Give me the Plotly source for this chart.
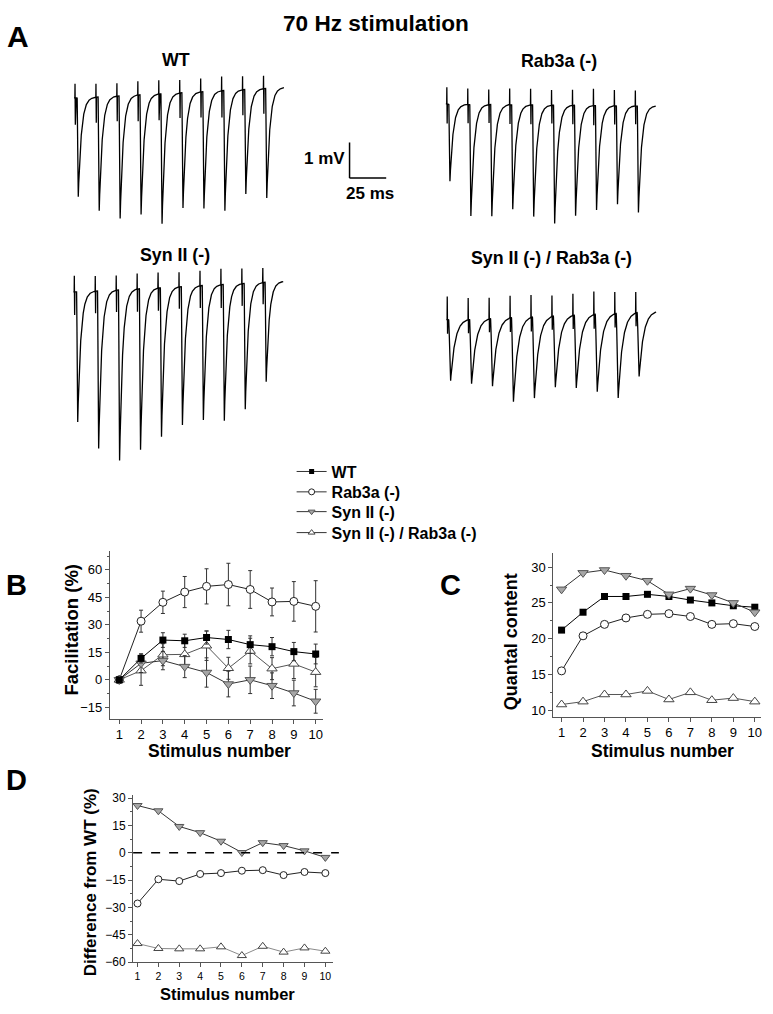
import numpy as np
import plotly.graph_objects as go

W, H = 773, 1014

# ---------------- data ----------------
stim = list(range(1, 11))

# Panel A: EPP amplitudes (mV) of each response in the 70 Hz train
epp_wt = [2.78, 3.20, 3.45, 3.37, 3.65, 3.24, 3.29, 3.38, 2.94, 3.08]
epp_rab = [2.17, 3.14, 3.14, 2.94, 3.14, 3.33, 3.11, 2.94, 2.77, 3.00]
epp_syn = [3.66, 4.43, 4.80, 4.53, 4.19, 3.89, 3.78, 3.83, 3.54, 2.80]
epp_dko = [1.72, 1.82, 1.91, 2.37, 2.29, 2.01, 2.06, 2.19, 2.39, 1.81]

# Panel B: facilitation (%)
fac_wt = [0, 11.7, 21.7, 21.3, 23.1, 22.0, 19.2, 18.1, 15.4, 14.1]
fac_wt_err = [1.0, 2.5, 4.0, 3.6, 3.6, 5.0, 4.8, 5.0, 5.0, 5.4]
fac_rab = [0, 32.0, 42.3, 47.9, 51.0, 52.0, 49.3, 42.5, 42.8, 40.1]
fac_rab_err = [1.0, 6.0, 6.1, 8.5, 9.6, 11.6, 10.3, 7.6, 10.8, 14.0]
fac_syn = [0, 9.0, 10.5, 7.2, 4.0, -2.3, 0.0, -3.2, -7.2, -11.7]
fac_syn_err = [1.0, 5.0, 5.0, 6.0, 8.0, 7.0, 7.5, 7.0, 7.0, 6.5]
fac_dko = [0, 5.0, 13.7, 13.9, 18.6, 6.3, 15.7, 6.1, 8.7, 4.2]
fac_dko_err = [1.0, 8.0, 6.0, 6.0, 8.0, 6.0, 7.0, 6.0, 8.0, 8.0]

# Panel C: quantal content
qc_wt = [21.2, 23.7, 25.9, 25.9, 26.2, 25.9, 25.4, 25.0, 24.6, 24.4]
qc_rab = [15.5, 20.4, 22.0, 22.9, 23.4, 23.5, 23.1, 22.0, 22.1, 21.7]
qc_syn = [26.9, 29.2, 29.6, 28.8, 28.1, 26.2, 27.0, 26.1, 25.0, 23.7]
qc_dko = [10.8, 11.2, 12.2, 12.2, 12.7, 11.5, 12.5, 11.4, 11.7, 11.2]

# Panel D: difference from WT (%)
diff_rab = [-27.8, -14.5, -15.5, -11.6, -11.1, -9.8, -9.5, -12.2, -10.5, -11.1]
diff_syn = [26.0, 23.1, 14.5, 11.1, 6.4, 0.2, 5.6, 4.0, 1.1, -2.5]
diff_dko = [-49.8, -52.5, -52.7, -52.7, -51.6, -56.4, -51.3, -54.5, -52.2, -54.0]

names = ["WT", "Rab3a (-)", "Syn II (-)", "Syn II (-) / Rab3a (-)"]

# ---------------- styling ----------------
FONT = "Liberation Sans, Arial, sans-serif"
AX = "#555555"

PX_PER_MS = 36.7 / 25.0
PX_PER_MV = 36.0
PERIOD = 1000.0 / 70.0


def px(x, y):
    return x / W, 1 - y / H


def sweep(amps, tau, rise, lat, art_up, art_dn, drift, tail=14.0, dt=0.02):
    n = len(amps)
    T = (n - 1) * PERIOD + tail
    t = np.arange(-0.6, T, dt)
    v = drift * np.clip(t, 0, None) / T
    for k, a in enumerate(amps):
        s = t - k * PERIOD
        v = v + art_up * np.clip(1 - np.abs(s - 0.08) / 0.1, 0, None)
        v = v - art_dn * np.clip(1 - np.abs(s - 0.3) / 0.14, 0, None)
        s2 = s - lat
        e = np.zeros_like(t)
        r = (s2 >= 0) & (s2 < rise)
        d = s2 >= rise
        e[r] = 0.5 * (1 - np.cos(np.pi * s2[r] / rise))
        e[d] = np.exp(-(s2[d] - rise) / tau)
        v = v - a * e
    return t, v


fig = go.Figure()

# ---- panel A traces (axis x/y: ms / mV, whole-page canvas) ----
trace_specs = [
    # amps, start px x, baseline px y, tau, rise, lat, up, dn, drift
    (epp_wt, 75.0, 95.0, 2.1, 0.8, 1.5, 0.40, 0.75, 0.30),
    (epp_rab, 447.3, 101.0, 2.2, 0.8, 1.4, 0.47, 0.55, -0.05),
    (epp_syn, 74.3, 291.0, 2.1, 0.8, 1.6, 0.45, 0.65, 0.30),
    (epp_dko, 447.7, 319.0, 3.0, 1.4, 1.0, 0.65, 0.40, 0.25),
]
for amps, x0, y0, tau, rise, lat, up, dn, drift in trace_specs:
    t, v = sweep(amps, tau, rise, lat, up, dn, drift)
    fig.add_trace(go.Scatter(
        x=x0 / PX_PER_MS + t, y=-y0 / PX_PER_MV + v, mode="lines",
        line=dict(color="black", width=1.3), xaxis="x", yaxis="y",
        showlegend=False, hoverinfo="skip"))

# scale bar (25 ms, 1 mV) in the same units as the traces
sb_x = 350.0 / PX_PER_MS
sb_y = -176.0 / PX_PER_MV
fig.add_shape(type="line", xref="x", yref="y", x0=sb_x, x1=sb_x, y0=sb_y, y1=sb_y + 1.0,
              line=dict(color="black", width=1.5))
fig.add_shape(type="line", xref="x", yref="y", x0=sb_x, x1=sb_x + 25.0, y0=sb_y, y1=sb_y,
              line=dict(color="black", width=1.5))

# ---- series styles ----
mk = {
    "wt": dict(symbol="square", size=7, color="black", line=dict(color="black", width=0)),
    "rab": dict(symbol="circle", size=8, color="white", line=dict(color="#222", width=1)),
    "syn": dict(symbol="triangle-down", size=9, color="#a6a6a6", line=dict(color="#555", width=1)),
    "dko": dict(symbol="triangle-up", size=9, color="white", line=dict(color="#444", width=1)),
}
lc = {"wt": "black", "rab": "#222", "syn": "#333", "dko": "#555"}

# ---- panel B ----
for key, ys, err in [("rab", fac_rab, fac_rab_err), ("dko", fac_dko, fac_dko_err),
                     ("syn", fac_syn, fac_syn_err), ("wt", fac_wt, fac_wt_err)]:
    fig.add_trace(go.Scatter(
        x=stim, y=ys, mode="lines+markers", xaxis="x2", yaxis="y2",
        line=dict(color=lc[key], width=1), marker=mk[key], cliponaxis=False,
        error_y=dict(type="data", array=err, color="#333", thickness=1, width=2),
        showlegend=False, hoverinfo="skip"))

# ---- panel C ----
for key, ys in [("rab", qc_rab), ("dko", qc_dko), ("wt", qc_wt), ("syn", qc_syn)]:
    fig.add_trace(go.Scatter(
        x=stim, y=ys, mode="lines+markers", xaxis="x3", yaxis="y3",
        line=dict(color=lc[key], width=1), marker=mk[key], cliponaxis=False,
        showlegend=False, hoverinfo="skip"))

# ---- panel D ----
for key, ys, col in [("rab", diff_rab, "#222"), ("syn", diff_syn, "#333"), ("dko", diff_dko, "#8a8a8a")]:
    fig.add_trace(go.Scatter(
        x=stim, y=ys, mode="lines+markers", xaxis="x4", yaxis="y4",
        line=dict(color=col, width=1), marker=dict(mk[key], size=mk[key]["size"] - 1),
        cliponaxis=False, showlegend=False, hoverinfo="skip"))
fig.add_shape(type="line", xref="x4 domain", yref="y4", x0=0, x1=1.03, y0=0, y1=0,
              line=dict(color="black", width=1.5, dash="dash"))

# ---- legend entries: one small legend per row for exact spacing ----
legend_rows = [472.7, 493.3, 513.3, 534.5]
leg_ids = ["legend", "legend2", "legend3", "legend4"]
legend_layout = {}
for key, name, lid, yrow in zip(["wt", "rab", "syn", "dko"], names, leg_ids, legend_rows):
    m = dict(mk[key])
    m["size"] = 6 if key != "wt" else 5
    fig.add_trace(go.Scatter(
        x=[None], y=[None], mode="lines+markers", name=name, xaxis="x2", yaxis="y2",
        line=dict(color="#333", width=1), marker=m, legend=lid, showlegend=True))
    legend_layout[lid] = dict(
        x=292 / W, y=1 - yrow / H, xanchor="left", yanchor="middle",
        bgcolor="rgba(0,0,0,0)", itemwidth=30, borderwidth=0,
        font=dict(family=FONT, size=16, color="black", weight="bold"))

# ---- axes ----
hid = dict(visible=False, showgrid=False, zeroline=False, fixedrange=True)
common = dict(showgrid=False, zeroline=False, showline=True, linecolor=AX, linewidth=1,
              ticks="outside", ticklen=4, tickcolor=AX, tickwidth=1,
              tickfont=dict(family=FONT, size=13, color="black"))

fig.update_layout(
    width=W, height=H, margin=dict(l=0, r=0, t=0, b=0),
    paper_bgcolor="white", plot_bgcolor="rgba(0,0,0,0)",
    xaxis=dict(hid, domain=[0, 1], range=[0, W / PX_PER_MS]),
    yaxis=dict(hid, domain=[0, 1], range=[-H / PX_PER_MV, 0]),
    xaxis2=dict(common, domain=[110 / W, 323.3 / W], range=[0.57, 10.33], anchor="y2",
                tickvals=stim),
    yaxis2=dict(common, domain=[1 - 722.7 / H, 1 - 553 / H], range=[-21.3, 70.3], anchor="x2",
                tickvals=[-15, 0, 15, 30, 45, 60],
                minor=dict(ticks="outside", ticklen=2, tickcolor=AX, dtick=7.5, tick0=0)),
    xaxis3=dict(common, domain=[554 / W, 762 / W], range=[0.614, 10.29], anchor="y3",
                tickvals=stim),
    yaxis3=dict(common, domain=[1 - 720.7 / H, 1 - 555 / H], range=[9.07, 31.98], anchor="x3",
                tickvals=[10, 15, 20, 25, 30],
                minor=dict(ticks="outside", ticklen=2, tickcolor=AX, dtick=2.5, tick0=0)),
    xaxis4=dict(common, domain=[133.3 / W, 333.3 / W], range=[0.79, 10.36], anchor="y4",
                tickvals=stim, tickfont=dict(family=FONT, size=10.5, color="black")),
    yaxis4=dict(common, domain=[1 - 969 / H, 1 - 800 / H], range=[-60.2, 31.6], anchor="x4",
                tickvals=[-60, -45, -30, -15, 0, 15, 30],
                tickfont=dict(family=FONT, size=12, color="black"),
                minor=dict(ticks="outside", ticklen=2, tickcolor=AX, dtick=7.5, tick0=0)),
    showlegend=True,
    **legend_layout,
)


def ann(text, x, y, size, angle=0):
    xx, yy = px(x, y)
    fig.add_annotation(text=text, x=xx, y=yy, xref="paper", yref="paper",
                       showarrow=False, xanchor="center", yanchor="middle",
                       textangle=angle,
                       font=dict(family=FONT, size=size, color="black", weight="bold"))


# titles / labels
ann("70 Hz stimulation", 376, 20, 22.6)
ann("A", 18, 33, 30)
ann("B", 17, 587, 29)
ann("C", 451, 587, 29)
ann("D", 17, 785, 29)
ann("WT", 176, 57, 17.8)
ann("Rab3a (-)", 560, 58, 17.8)
ann("Syn II (-)", 175, 254, 17.8)
ann("Syn II (-) / Rab3a (-)", 552, 257, 17.8)
ann("1 mV", 325, 156, 17)
ann("25 ms", 370, 192, 17)

# axis titles
ann("Facilitation (%)", 71.5, 632, 18.5, angle=-90)
ann("Stimulus number", 219.7, 755, 17.5)
ann("Quantal content", 512, 645, 18, angle=-90)
ann("Stimulus number", 663, 755, 17.5)
ann("Difference from WT (%)", 90, 888, 17, angle=-90)
ann("Stimulus number", 228, 1001, 16.5)

fig.write_html("out.html", config={"displayModeBar": False, "staticPlot": True},
               post_script="document.body.style.margin='0';")
